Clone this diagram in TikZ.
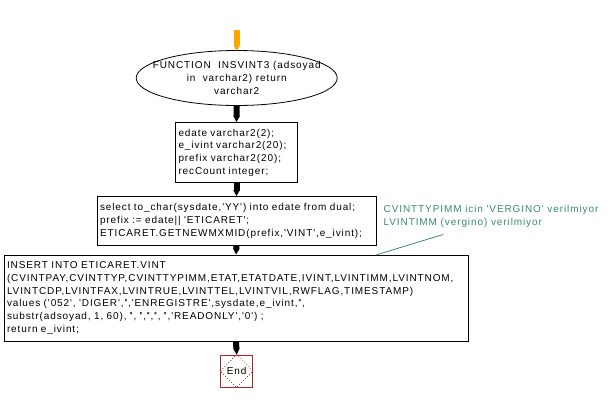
\documentclass[tikz,border=0pt]{standalone}
\usepackage{fontspec}
\newfontfamily\arialf{Liberation Sans}[LetterSpace=9]
\newcommand\myfs{\fontsize{10pt}{12.7pt}\selectfont}
\newcommand\twoq{'\kern-1.1pt'}
\usetikzlibrary{shapes.geometric,arrows.meta}
\definecolor{notegreen}{RGB}{58,138,108}
\definecolor{endred}{RGB}{170,40,40}
\definecolor{startorange}{RGB}{255,165,0}
\begin{document}
\begin{tikzpicture}[x=1pt,y=-1pt,
  every node/.style={font=\arialf\myfs},
  codebox/.style={draw=black, line width=0.8pt, align=left, inner xsep=3pt, inner ysep=0pt, anchor=center},
  flowarrow/.style={line width=6pt, -{Triangle[width=6pt,length=6pt]}},
  startarrow/.style={draw=startorange, line width=6pt, -{Triangle[width=6pt,length=6pt]}}]
\useasboundingbox (0,0) rectangle (612,402);
% start ellipse
\node[ellipse, draw=black, line width=0.8pt, minimum width=201pt, minimum height=55pt, inner sep=0pt] (start) at (236.7,78) {};
\node[align=center, inner sep=0pt] (starttext) at (start.center) {FUNCTION~ INSVINT3 (adsoyad\\in~ varchar2) return\\varchar2};
\coordinate (entry) at (236.7,30);
\draw[startarrow] (entry) -- ([yshift=-1pt]start.north);
% boxes
\node[codebox, text width=116pt, minimum height=60pt] (b1) at (236.5,152.5)
 {edate varchar2(2);\\e\_ivint varchar2(20);\\prefix varchar2(20);\\recCount integer;};
\node[codebox, text width=273pt, minimum height=48.5pt] (b2) at (236.5,220.8)
 {select to\_char(sysdate,'YY') into edate from dual;\\prefix := edate|| 'ETICARET';\\ETICARET.GETNEWMXMID(prefix,'VINT',e\_ivint);};
\node[codebox, text width=458pt, minimum height=86pt] (b3) at (236,298)
 {INSERT INTO ETICARET.VINT\\(CVINTPAY,CVINTTYP,CVINTTYPIMM,ETAT,ETATDATE,IVINT,LVINTIMM,LVINTNOM,\\LVINTCDP,LVINTFAX,LVINTRUE,LVINTTEL,LVINTVIL,RWFLAG,TIMESTAMP)\\values ('052', 'DIGER',\twoq,'ENREGISTRE',sysdate,e\_ivint,\twoq,\\substr(adsoyad, 1, 60), \twoq, \twoq,\twoq,\twoq, \twoq,'READONLY','0') ;\\return e\_ivint;};
% end
\node[draw=endred, line width=0.8pt, minimum width=32pt, minimum height=32pt, inner sep=0pt] (end) at (236.7,371) {End};
\draw[endred, dotted, line width=0.8pt] (end.north) -- (end.east) -- (end.south) -- (end.west) -- cycle;
% arrows
\draw[flowarrow] (start.south) -- (b1.north);
\draw[flowarrow] (b1.south) -- (b2.north);
\draw[flowarrow] (b2.south) -- (b3.north);
\draw[flowarrow] (b3.south) -- (end.north);
% comment
\node[anchor=north west, align=left, inner sep=0pt, text=notegreen] (note) at (383.5,205.5)
 {CVINTTYPIMM icin 'VERGINO' verilmiyor\\LVINTIMM (vergino) verilmiyor};
\coordinate (notefoot) at (443,234.5);
\coordinate (notehook) at (376,255);
\draw[notegreen, line width=0.8pt] (notefoot) -- (notehook);
\end{tikzpicture}
\end{document}
